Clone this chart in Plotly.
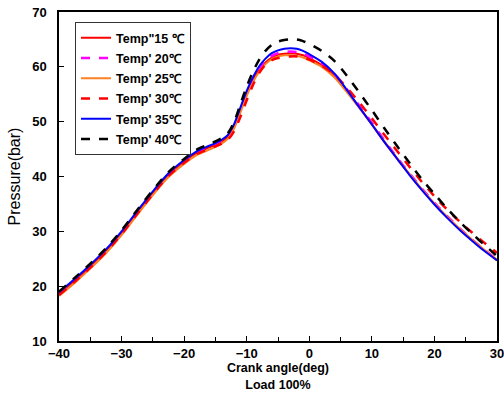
import plotly.graph_objects as go

crank = [-40, -37.5, -35, -32.5, -30, -27.5, -25, -22.5, -20, -18, -16, -15, -14, -13, -12, -11, -10, -9, -8, -7,
         -6, -5, -4, -3, -2, -1, 0, 2, 4, 6, 8, 10, 12, 14, 16, 18, 20, 22, 24, 26, 28, 30]

p15 = [18.6, 21.0, 23.6, 26.4, 29.7, 33.4, 37.0, 40.3, 42.7, 44.3, 45.3, 45.8, 46.4, 47.3, 49.2, 52.1, 55.1, 57.6, 59.5, 60.8,
       61.7, 62.2, 62.4, 62.5, 62.4, 62.1, 61.6, 60.3, 58.4, 55.6, 52.6, 49.5, 46.3, 43.3, 40.4, 37.6, 35.0, 32.6, 30.4, 28.4, 26.5, 24.8]
p20 = [18.8, 21.2, 23.8, 26.6, 29.9, 33.6, 37.2, 40.5, 42.9, 44.5, 45.5, 46.0, 46.6, 47.5, 49.4, 52.3, 55.3, 57.8, 59.8, 61.1,
       62.0, 62.5, 62.7, 62.8, 62.7, 62.4, 61.9, 60.6, 58.7, 55.9, 52.9, 49.8, 46.6, 43.5, 40.6, 37.8, 35.2, 32.8, 30.6, 28.5, 26.6, 24.9]
p25 = [18.2, 20.6, 23.2, 26.0, 29.3, 33.0, 36.6, 39.9, 42.3, 43.9, 44.9, 45.4, 46.0, 46.9, 48.8, 51.7, 54.7, 57.2, 59.1, 60.5,
       61.4, 61.9, 62.1, 62.1, 62.0, 61.7, 61.2, 60.0, 58.1, 55.4, 52.5, 49.5, 46.4, 43.4, 40.5, 37.7, 35.1, 32.7, 30.5, 28.5, 26.6, 24.8]
p30 = [18.4, 20.8, 23.4, 26.2, 29.5, 33.2, 36.8, 40.1, 42.5, 44.1, 45.0, 45.5, 46.0, 46.7, 48.3, 50.9, 53.9, 56.7, 58.9, 60.4,
       61.2, 61.6, 61.8, 61.9, 61.9, 61.7, 61.3, 60.2, 58.6, 56.2, 53.5, 50.6, 47.6, 44.7, 41.8, 39.0, 36.4, 34.0, 31.8, 29.8, 27.9, 26.1]
p35 = [18.9, 21.3, 23.9, 26.7, 30.0, 33.7, 37.3, 40.6, 43.0, 44.6, 45.6, 46.1, 46.7, 47.6, 49.6, 52.6, 55.6, 58.1, 60.1, 61.5,
       62.5, 63.0, 63.3, 63.4, 63.3, 62.9, 62.3, 60.9, 58.8, 55.8, 52.6, 49.5, 46.3, 43.3, 40.3, 37.5, 34.9, 32.5, 30.3, 28.3, 26.4, 24.7]
p40 = [19.0, 21.5, 24.1, 26.9, 30.2, 33.9, 37.5, 40.8, 43.2, 44.9, 45.9, 46.4, 47.0, 47.9, 50.0, 53.2, 56.4, 59.1, 61.3, 62.9,
       64.0, 64.6, 64.9, 65.0, 65.0, 64.7, 64.2, 62.9, 61.1, 58.4, 55.3, 52.1, 48.8, 45.6, 42.5, 39.5, 36.8, 34.2, 31.8, 29.6, 27.5, 25.5]

names = ["Temp\"15 \u2103", "Temp' 20\u2103", "Temp' 25\u2103", "Temp' 30\u2103", "Temp' 35\u2103", "Temp' 40\u2103"]
series = [p15, p20, p25, p30, p35, p40]
colors = ["#ff0000", "#ff00ff", "#ff8020", "#ff0000", "#0000ff", "#000000"]
dashes = ["solid", "dash", "solid", "dash", "solid", "dash"]
widths = [2, 2.5, 2, 2.5, 2, 2.5]

fig = go.Figure()
for i, (nm, ys) in enumerate(zip(names, series)):
    fig.add_trace(go.Scatter(
        x=crank, y=ys, name=nm, mode="lines",
        line=dict(color=colors[i], dash=dashes[i], width=widths[i], shape="spline", smoothing=0.8),
        legendgroup=str(i),
    ))

font_main = "Liberation Sans, Arial, sans-serif"

fig.update_layout(
    width=504, height=398,
    margin=dict(l=59, r=7, t=12, b=57),
    paper_bgcolor="white", plot_bgcolor="white",
    showlegend=True,
    legend=dict(
        x=0.0365, y=0.969, xanchor="left", yanchor="top",
        bordercolor="#333333", borderwidth=1, bgcolor="white",
        font=dict(family=font_main, size=12.5, color="black", weight="bold"),
        traceorder="grouped", tracegroupgap=1, itemwidth=30,
    ),
    xaxis=dict(
        range=[-40, 30], tickmode="linear", tick0=-40, dtick=10,
        ticks="inside", ticklen=5, tickcolor="black", tickwidth=1,
        minor=dict(ticks="inside", ticklen=4, dtick=5, tick0=-40, tickcolor="black"),
        showline=True, linecolor="black", linewidth=1.5, mirror=True,
        showgrid=False, zeroline=False, automargin=False,
        ticklabeloverflow="allow",
        tickfont=dict(family=font_main, size=13, color="black", weight="bold"),
        title=dict(text="Crank angle(deg)<br>Load 100%", standoff=3,
                   font=dict(family=font_main, size=12.5, color="black", weight="bold")),
    ),
    yaxis=dict(
        range=[10, 70], tickmode="linear", tick0=10, dtick=10,
        ticks="inside", ticklen=5, tickcolor="black", tickwidth=1,
        showline=True, linecolor="black", linewidth=1.5, mirror=True,
        showgrid=False, zeroline=False, automargin=False,
        ticklabelstandoff=8,
        tickfont=dict(family=font_main, size=13, color="black", weight="bold"),
        title=dict(text="Pressure(bar)", standoff=8,
                   font=dict(family=font_main, size=16, color="black")),
    ),
)

fig.write_html("out.html", config={"displayModeBar": False},
               post_script="document.body.style.margin='0';")
